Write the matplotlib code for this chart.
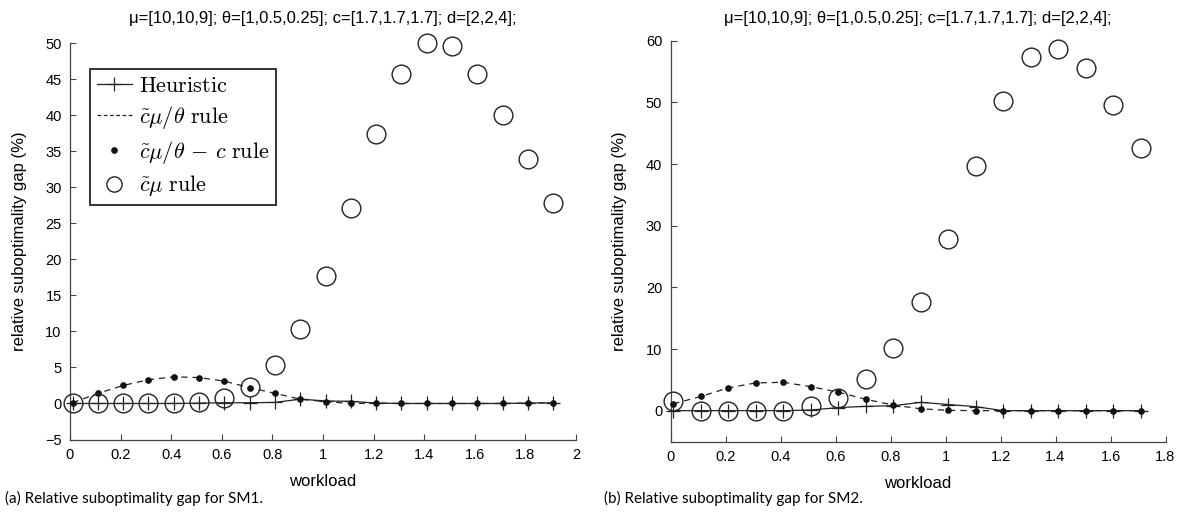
import matplotlib
matplotlib.use("Agg")
import matplotlib.pyplot as plt
from matplotlib.lines import Line2D
import numpy as np

plt.rcParams['font.family'] = ['Liberation Sans', 'DejaVu Sans']
plt.rcParams['mathtext.fontset'] = 'cm'

title_text = "μ=[10,10,9]; θ=[1,0.5,0.25]; c=[1.7,1.7,1.7]; d=[2,2,4];"

# ---- SM1 data ----
x1 = [0.01, 0.11, 0.21, 0.31, 0.41, 0.51, 0.61, 0.71, 0.81, 0.91,
      1.01, 1.11, 1.21, 1.31, 1.41, 1.51, 1.61, 1.71, 1.81, 1.91]
heur1 = [0, 0, 0, 0, 0, 0.05, 0.1, 0.1, 0.15, 0.6,
         0.35, 0.3, 0.05, 0, 0, 0, 0, 0, 0.05, 0.1]
cmt1 = [0.1, 1.4, 2.5, 3.3, 3.7, 3.6, 3.1, 2.2, 1.4, 0.6,
        0.25, 0.0, 0.05, 0.0, 0.0, 0.0, 0.0, 0.0, 0.05, 0.1]
cmtc1 = [0.1, 1.4, 2.5, 3.3, 3.7, 3.6, 3.1, 2.2, 1.4, 0.6,
         0.25, 0.0, 0.05, 0.0, 0.0, 0.0, 0.0, 0.0, 0.05, 0.1]
cmu1 = [0, 0, 0, 0, 0, 0.2, 0.8, 2.3, 5.3, 10.3,
        17.7, 27.2, 37.4, 45.7, 50.0, 49.6, 45.7, 40.1, 33.9, 27.9]

# ---- SM2 data ----
x2 = [0.01, 0.11, 0.21, 0.31, 0.41, 0.51, 0.61, 0.71, 0.81, 0.91,
      1.01, 1.11, 1.21, 1.31, 1.41, 1.51, 1.61, 1.71]
heur2 = [0, 0, 0, 0, 0, 0.1, 0.5, 0.7, 0.8, 1.35,
         1.0, 0.65, 0, 0, 0, 0, 0, 0]
cmt2 = [1.1, 2.3, 3.7, 4.5, 4.6, 3.9, 3.0, 1.85, 0.9, 0.3,
        0.05, 0.0, 0.0, 0.0, 0.0, 0.0, 0.0, 0.0]
cmtc2 = [1.1, 2.3, 3.7, 4.5, 4.6, 3.9, 3.0, 1.85, 0.9, 0.3,
         0.05, 0.0, 0.0, 0.0, 0.0, 0.0, 0.0, 0.0]
cmu2 = [1.6, 0, 0, 0, 0, 0.7, 2.1, 5.2, 10.2, 17.6,
        27.8, 39.7, 50.3, 57.3, 58.7, 55.5, 49.5, 42.6]

W, H = 1184, 524
fig = plt.figure(figsize=(W / 100, H / 100), dpi=100)

def px_axes(l, r, t, b):
    return fig.add_axes([l / W, 1 - b / H, (r - l) / W, (b - t) / H])

ax1 = px_axes(70, 576, 43.3, 439.5)
ax2 = px_axes(670.5, 1165.5, 40.7, 441.5)

lc = '#222222'

def draw(ax, x, heur, cmt, cmtc, cmu, ylab_x):
    ax.plot(x, heur, color=lc, lw=0.9, marker='+', ms=10, mew=0.9, zorder=3, clip_on=False)
    ax.plot(x, cmt, color=lc, lw=0.9, ls=(0, (5, 4)), zorder=2, clip_on=False)
    ax.plot(x, cmtc, ls='none', marker='o', ms=3.8, color='#111111', zorder=4, clip_on=False)
    ax.plot(x, cmu, ls='none', marker='o', ms=13.5, mfc='none', mec=lc, mew=1.0, zorder=5, clip_on=False)
    for s in ['top', 'right']:
        ax.spines[s].set_visible(False)
    for s in ['left', 'bottom']:
        ax.spines[s].set_color('#444444')
        ax.spines[s].set_linewidth(0.9)
    ax.tick_params(direction='in', length=4, width=0.8, labelsize=10.5, color='#444444', pad=6)
    ax.set_xlabel('workload', fontsize=12, labelpad=9)
    ax.set_ylabel('relative suboptimality gap (%)', fontsize=12)
    ax.yaxis.set_label_coords(ylab_x, 0.5)
    bb = ax.get_position()
    fig.text((bb.x0 + bb.x1) / 2, 1 - 19 / H, title_text, fontsize=12, ha='center', va='center')

draw(ax1, x1, heur1, cmt1, cmtc1, cmu1, -0.085)
ax1.set_xlim(0, 2)
ax1.set_ylim(-5, 50)
ax1.set_xticks(np.arange(0, 2.01, 0.2))
ax1.set_xticklabels(['0', '0.2', '0.4', '0.6', '0.8', '1', '1.2', '1.4', '1.6', '1.8', '2'])
ax1.set_yticks(np.arange(-5, 51, 5))
ax1.set_yticklabels(['\u22125'] + [str(v) for v in range(0, 51, 5)])

draw(ax2, x2, heur2, cmt2, cmtc2, cmu2, -0.087)
ax2.set_xlim(0, 1.8)
ax2.set_ylim(-5, 60)
ax2.set_xticks(np.arange(0, 1.81, 0.2))
ax2.set_xticklabels(['0', '0.2', '0.4', '0.6', '0.8', '1', '1.2', '1.4', '1.6', '1.8'])
ax2.set_yticks(np.arange(0, 61, 10))

handles = [
    Line2D([], [], color=lc, lw=0.9, marker='+', ms=10, mew=0.9),
    Line2D([], [], color=lc, lw=0.9, ls=(0, (3, 2))),
    Line2D([], [], ls='none', marker='o', ms=3.8, color='#111111'),
    Line2D([], [], ls='none', marker='o', ms=11, mfc='none', mec=lc, mew=1.0),
]
labels = [r'$\mathrm{Heuristic}$', r'$\tilde{c}\mu/\theta\ \mathrm{rule}$',
          r'$\tilde{c}\mu/\theta\,-\,c\ \mathrm{rule}$', r'$\tilde{c}\mu\ \mathrm{rule}$']
leg = ax1.legend(handles, labels, loc='upper left', bbox_to_anchor=(0.0395, 0.935),
                 fontsize=16, frameon=True, fancybox=False, edgecolor='black',
                 handlelength=1.6, handletextpad=0.3, labelspacing=0.34,
                 borderpad=0.3, borderaxespad=0)
leg.get_frame().set_linewidth(1.4)

cap_font = ['Lato', 'Liberation Sans', 'DejaVu Sans']
fig.text(5 / W, 1 - 498 / H, '(a) Relative suboptimality gap for SM1.', fontsize=11,
         family=cap_font, va='center')
fig.text(604 / W, 1 - 498 / H, '(b) Relative suboptimality gap for SM2.', fontsize=11,
         family=cap_font, va='center')

fig.savefig('out.png', dpi=100)
